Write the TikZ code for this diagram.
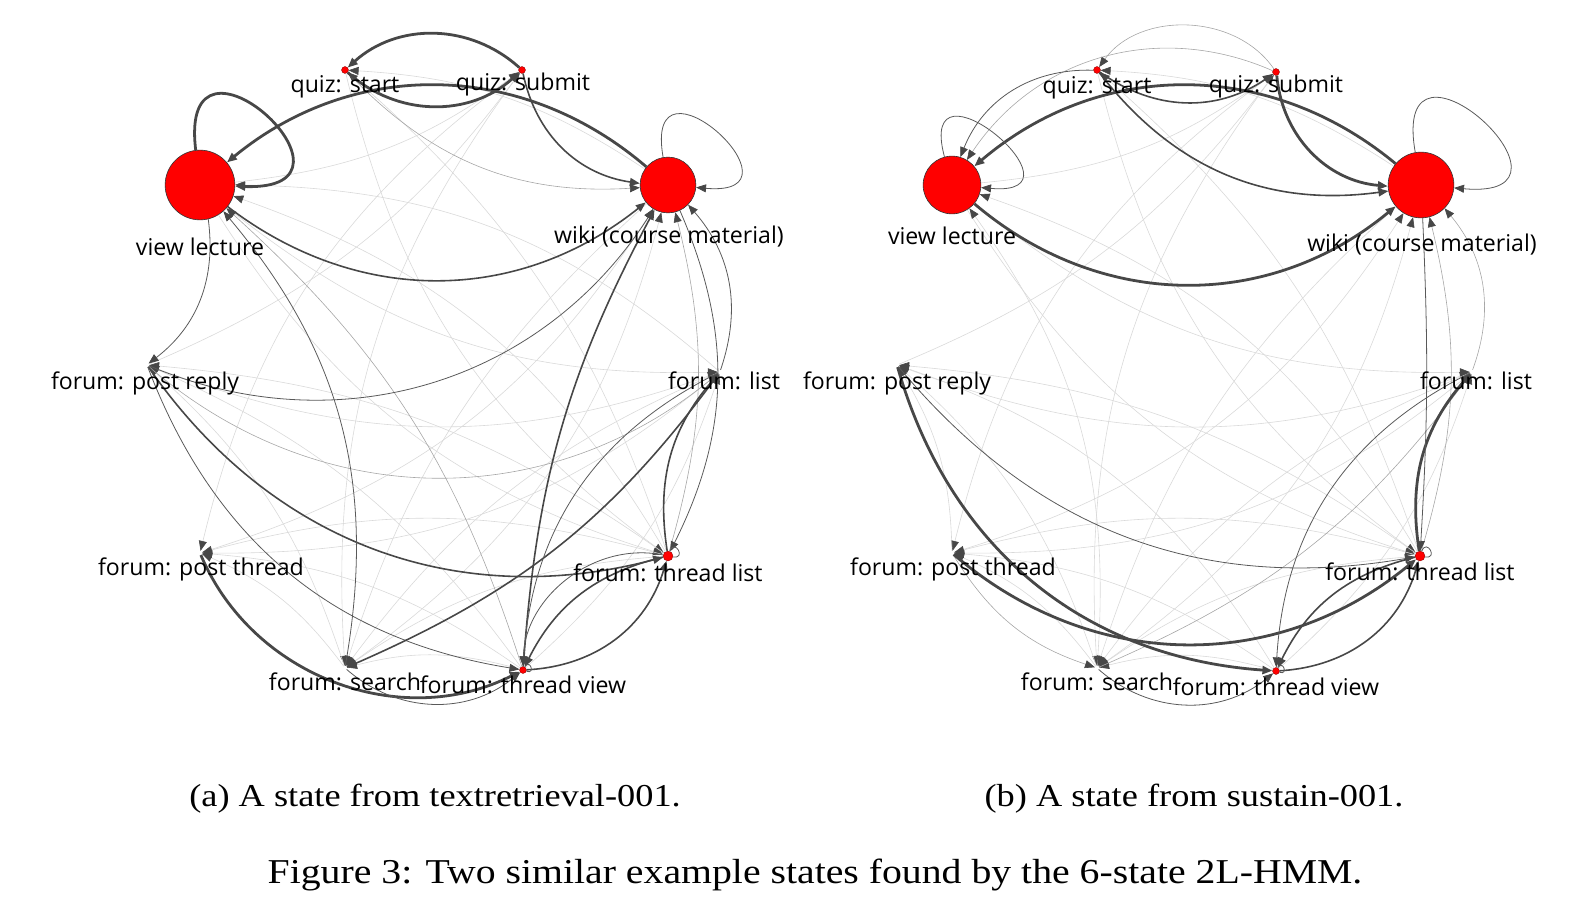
\documentclass[tikz,border=0pt]{standalone}
\usepackage{fontspec}
\usepackage{graphicx}
\setmainfont{Liberation Serif}
\newfontfamily\labfont{Open Sans}
\usetikzlibrary{arrows.meta}

\begin{document}
\begin{tikzpicture}[x=1bp, y=1bp,
  big/.style={circle, fill=red, draw=black!80, line width=0.6, inner sep=0},
  dot/.style={circle, fill=red, draw=red!50!black, line width=0.3, inner sep=0, minimum size=7},
  hid/.style={circle, inner sep=0, minimum size=4},
  lbl/.style={font=\labfont\fontsize{23.2}{27}\selectfont, inner sep=0, anchor=base},
  tip/.style={-{Triangle[length=10pt, width=8pt, color=black!72]}},
  e1/.style={tip, draw=black!72, line width=2.8},
  e2/.style={tip, draw=black!72, line width=1.6},
  e3/.style={tip, draw=black!65, line width=0.8},
  e4/.style={tip, draw=black!35, line width=0.6},
  e5/.style={tip, draw=black!15, line width=0.6},
  captxt/.style={font=\fontsize{32}{38}\selectfont, inner sep=0, anchor=base},
  figtxt/.style={font=\fontsize{35}{40}\selectfont, inner sep=0, anchor=base}]
  \useasboundingbox (0,0) rectangle (1584,-907);

  % Zustand (a)
  \node[big, minimum size=70] (avl) at (200,-185) {};
  \node[dot] (aqs) at (345,-70) {};
  \node[dot] (aqb) at (522,-70) {};
  \node[big, minimum size=56] (awk) at (668,-185) {};
  \node[hid] (afl) at (720,-372) {};
  \node[dot, minimum size=10] (atl) at (668,-556) {};
  \node[dot] (atv) at (523,-670) {};
  \node[hid] (afs) at (345,-668) {};
  \node[hid] (apt) at (200,-553) {};
  \node[hid] (apr) at (147,-365) {};

  % schwache Kanten (a)
  \foreach \a/\b in {aqs/atl, aqb/apt, avl/afl, apt/afl, aqb/afs, avl/atl, apr/afl, afs/awk, atl/avl, afl/avl, apt/awk}
    \draw[e5] (\a) to[bend right=20] (\b);
  \foreach \a/\b in {afs/apt, atv/apt, atl/apt, atl/apr, atv/apr, afs/apr, atv/afs, atl/afs, afl/afs, awk/afs, atv/afl, awk/aqs, atl/aqs, avl/aqb, apr/aqb}
    \draw[e5] (\a) to[bend right=15] (\b);
  \draw[e4] (aqs) to[bend right=25] (awk);
  \draw[e4] (atv) to[bend right=15] (avl);
  \draw[e4] (atl) to[bend right=15] (awk);
  \draw[e4] (apr) to[bend right=40] (afl);

  % Kanten (a)
  \draw[e1] (aqb) to[bend right=42] (aqs);
  \draw[e1] (aqs) to[bend right=42] (aqb);
  \draw[e1] (awk) to[bend right=40] (avl);
  \draw[e2] (avl) to[bend right=38] (awk);
  \draw[e1] (avl) to[out=97, in=-2, min distance=150] (avl);
  \draw[e3] (awk) to[out=100, in=-5, min distance=120] (awk);
  \draw[e2] (aqb) to[bend right=35] (awk);
  \draw[e3] (avl) to[bend left=30] (apr);
  \draw[e3] (apr) to[bend right=40] (awk);
  \draw[e2] (apr) to[bend right=35] (atl);
  \draw[e3] (apr) to[bend right=30] (atv);
  \draw[e1] (apt) to[bend right=47] (atv);
  \draw[e2] (afs) to[bend right=15] (afl);
  \draw[e2] (atv) to[bend left=12] (awk);
  \draw[e2] (atl) to[bend left=25] (afl);
  \draw[e3] (afl) to[bend right=30] (atv);
  \draw[e2] (atv) to[bend right=35] (atl);
  \draw[e2] (atl) to[bend right=25] (atv);
  \draw[e3] (atl) to[bend right=50] (atv);
  \draw[e3] (afs) to[bend right=40] (atv);
  \draw[e3] (afs) to[bend right=25] (avl);
  \draw[e3] (awk) to[bend left=25] (atl);
  \draw[e3] (afl) to[bend right=30] (awk);
  \draw[e3, -] (atl) to[out=70, in=-10, min distance=14] (atl);
  \draw[e3, -] (atv) to[out=60, in=-20, min distance=10] (atv);

  % Beschriftungen (a)
  \node[lbl] (avl-l) at (200,-255) {view lecture};
  \node[lbl] (aqs-l) at (345,-92) {quiz: start};
  \node[lbl] (aqb-l) at (523,-90) {quiz: submit};
  \node[lbl] (awk-l) at (669,-243) {wiki (course material)};
  \node[lbl] (apr-l) at (145,-389) {forum: post reply};
  \node[lbl] (afl-l) at (724,-389) {forum: list};
  \node[lbl] (apt-l) at (201,-575) {forum: post thread};
  \node[lbl] (atl-l) at (668,-581) {forum: thread list};
  \node[lbl] (afs-l) at (345,-690) {forum: search};
  \node[lbl] (atv-l) at (523,-693) {forum: thread view};

  % Zustand (b)
  \node[big, minimum size=58] (bvl) at (952,-185) {};
  \node[dot] (bqs) at (1097,-70) {};
  \node[dot] (bqb) at (1276,-72) {};
  \node[big, minimum size=66] (bwk) at (1421,-185) {};
  \node[hid] (bfl) at (1472,-372) {};
  \node[dot, minimum size=10] (btl) at (1420,-556) {};
  \node[dot] (btv) at (1276,-671) {};
  \node[hid] (bfs) at (1097,-668) {};
  \node[hid] (bpt) at (952,-553) {};
  \node[hid] (bpr) at (897,-365) {};

  % schwache Kanten (b)
  \foreach \a/\b in {bqs/btl, bqb/bpt, bvl/bfl, bpt/bfl, bqb/bfs, bvl/btl, bpr/bfl, bfs/bwk, bpt/bwk, btv/bpr, btl/bvl, bfs/bvl}
    \draw[e5] (\a) to[bend right=20] (\b);
  \foreach \a/\b in {bfs/bpt, btv/bpt, btl/bpt, btl/bpr, bfs/bpr, bpt/bpr, btv/bfs, btl/bfs, bfl/bfs, bwk/bfs, btv/bfl, bwk/bqs, btl/bqs, bvl/bqb, bpr/bqb}
    \draw[e5] (\a) to[bend right=15] (\b);
  \draw[e4] (bqb) to[bend right=55] (bqs);
  \draw[e4] (bqb) to[bend right=40] (bvl);
  \draw[e4] (bfs) to[bend right=15] (bfl);
  \draw[e4] (bfl) to[bend right=30] (bwk);
  \draw[e4] (btl) to[bend right=15] (bwk);
  \draw[e4] (bpt) to[bend right=20] (bfs);

  % Kanten (b)
  \draw[e2] (bqs) to[bend right=35] (bqb);
  \draw[e1] (bwk) to[bend right=40] (bvl);
  \draw[e1] (bvl) to[bend right=40] (bwk);
  \draw[e3] (bvl) to[out=105, in=-5, min distance=115] (bvl);
  \draw[e3] (bwk) to[out=100, in=-5, min distance=150] (bwk);
  \draw[e1] (bqb) to[bend right=40] (bwk);
  \draw[e2] (bqs) to[bend right=30] (bwk);
  \draw[e3] (bqs) to[bend right=35] (bvl);
  \draw[e1] (bpr) to[bend right=35] (btv);
  \draw[e1] (bpt) to[bend right=40] (btl);
  \draw[e3] (bpr) to[bend right=30] (btl);
  \draw[e1] (btl) to[bend left=25] (bfl);
  \draw[e2] (btv) to[bend right=35] (btl);
  \draw[e2] (btl) to[bend right=25] (btv);
  \draw[e3] (bfs) to[bend right=40] (btv);
  \draw[e3] (bfl) to[bend right=30] (btv);
  \draw[e3] (bwk) to[bend left=3] (btl);
  \draw[e3, -] (btl) to[out=70, in=-10, min distance=14] (btl);
  \draw[e3, -] (btv) to[out=60, in=-20, min distance=10] (btv);

  % Beschriftungen (b)
  \node[lbl] (bvl-l) at (952,-244) {view lecture};
  \node[lbl] (bqs-l) at (1097,-93) {quiz: start};
  \node[lbl] (bqb-l) at (1276,-92) {quiz: submit};
  \node[lbl] (bwk-l) at (1422,-251) {wiki (course material)};
  \node[lbl] (bpr-l) at (897,-389) {forum: post reply};
  \node[lbl] (bfl-l) at (1476,-389) {forum: list};
  \node[lbl] (bpt-l) at (953,-575) {forum: post thread};
  \node[lbl] (btl-l) at (1420,-580) {forum: thread list};
  \node[lbl] (bfs-l) at (1097,-690) {forum: search};
  \node[lbl] (btv-l) at (1276,-695) {forum: thread view};

  % Bildunterschriften
  \node[captxt] (capa) at (435,-806) {\scalebox{1.14}[1]{(a) A state from textretrieval-001.}};
  \node[captxt] (capb) at (1194,-806) {\scalebox{1.14}[1]{(b) A state from sustain-001.}};
  \node[figtxt] (fig) at (815,-883) {\scalebox{1.14}[1]{Figure 3: Two similar example states found by the 6-state 2L-HMM.}};
\end{tikzpicture}
\end{document}
